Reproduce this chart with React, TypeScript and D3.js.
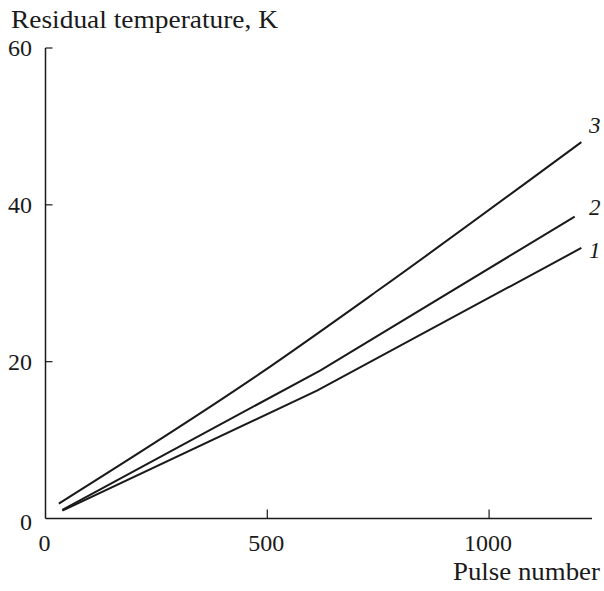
import React from "react";
import { scaleLinear, line, curveLinear, curveMonotoneX } from "d3";

// Pulse number vs residual temperature, three curves
const curve1X = [38, 612, 1208];
const curve1Y = [1.0, 16.3, 34.5];
const curve2X = [38, 620, 1193];
const curve2Y = [1.1, 18.9, 38.5];
const curve3X = [30, 484, 750, 1208];
const curve3Y = [1.9, 18.5, 29.1, 48.0];
const curveLabels = ["1", "2", "3"];

const xTicks = [0, 500, 1000];
const yTicks = [0, 20, 40, 60];

const W = 604;
const H = 591;
const FONT = "'Liberation Serif', 'Times New Roman', serif";
const INK = "#1a1a1a";

export default function App() {
  // Scales
  const x = scaleLinear().domain([0, 1232]).range([45.5, 592]);
  const y = scaleLinear().domain([0, 60]).range([518.5, 48]);

  const curves = [
    { xs: curve1X, ys: curve1Y, shape: curveLinear },
    { xs: curve2X, ys: curve2Y, shape: curveLinear },
    { xs: curve3X, ys: curve3Y, shape: curveMonotoneX },
  ];

  return (
    <svg
      width={W}
      height={H}
      style={{ position: "absolute", left: 0, top: 0, background: "#fff" }}
      fontFamily={FONT}
    >
      {/* Axes */}
      <line x1={x(0)} x2={x(0)} y1={y(0)} y2={y(60)} stroke={INK} strokeWidth={1.5} />
      <line x1={x(0)} x2={x(1232)} y1={y(0)} y2={y(0)} stroke={INK} strokeWidth={1.5} />

      {/* Y ticks */}
      {yTicks.map((t) => (
        <g key={t}>
          {t > 0 && (
            <line x1={x(0)} x2={x(0) + 7} y1={y(t)} y2={y(t)} stroke={INK} strokeWidth={1.2} />
          )}
          <text x={32} y={y(t) + (t === 0 ? 11 : 8)} textAnchor="end" fontSize={24} fill={INK}>
            {t}
          </text>
        </g>
      ))}

      {/* X ticks */}
      {xTicks.map((t) => (
        <g key={t}>
          {t > 0 && (
            <line x1={x(t)} x2={x(t)} y1={y(0)} y2={y(0) - 9} stroke={INK} strokeWidth={1.2} />
          )}
          <text x={x(t) - 1} y={551} textAnchor="middle" fontSize={24} fill={INK}>
            {t}
          </text>
        </g>
      ))}

      {/* Axis titles */}
      <text x={11} y={28} fontSize={25} textLength={267} lengthAdjust="spacingAndGlyphs" fill={INK}>
        Residual temperature, K
      </text>
      <text x={453} y={580} fontSize={25} textLength={147} lengthAdjust="spacingAndGlyphs" fill={INK}>
        Pulse number
      </text>

      {/* Curves */}
      {curves.map((c, i) => {
        const pts = c.xs.map((v, j) => [v, c.ys[j]] as [number, number]);
        const path = line<[number, number]>()
          .x((d) => x(d[0]))
          .y((d) => y(d[1]))
          .curve(c.shape);
        return (
          <g key={i}>
            <path d={path(pts) ?? ""} fill="none" stroke={INK} strokeWidth={2} />
            <text
              x={589}
              y={[258, 215, 133][i]}
              fontSize={23}
              fontStyle="italic"
              fill={INK}
            >
              {curveLabels[i]}
            </text>
          </g>
        );
      })}
    </svg>
  );
}
